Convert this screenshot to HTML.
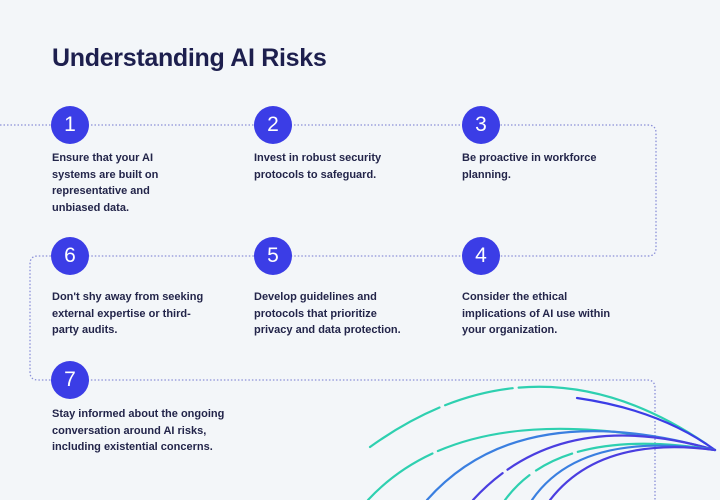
<!DOCTYPE html>
<html><head><style>
body{margin:0;width:720px;height:500px;background:#f3f6f9;font-family:"Liberation Sans",sans-serif;overflow:hidden;position:relative}
h1{position:absolute;left:52px;top:44px;margin:0;font-size:25px;color:#1d1f4e;font-weight:bold;letter-spacing:-0.3px}
.c{position:absolute;width:38px;height:38px;border-radius:50%;background:#3b3de6;color:#fff;font-size:21px;line-height:38px;text-align:center}
.t{position:absolute;font-size:11px;font-weight:bold;color:#23254a;line-height:16.5px;width:200px}
</style></head><body>
<svg width="720" height="500" style="position:absolute;left:0;top:0">
<g fill="none" stroke="#8a8fd8" stroke-width="1.3" stroke-dasharray="1.5 2">
<path d="M0 125 H648 Q656 125 656 133 V248 Q656 256 648 256 H38 Q30 256 30 264 V372 Q30 380 38 380 H647 Q655 380 655 388 V500"/>
</g>
<g fill="none" stroke-width="2.2" stroke-linecap="round">
<path d="M370 447 Q540 325 715 450" stroke="#2ed0b0" stroke-dasharray="80 6 70 6 200"/>
<path d="M577 398 Q660 410 715 450" stroke="#3b3de6"/>
<path d="M368 500 Q470 390 715 450" stroke="#2ed0b0" stroke-dasharray="80 6 200"/>
<path d="M427 500 Q520 395 715 450" stroke="#3a7fe0"/>
<path d="M473 500 Q560 405 715 450" stroke="#4a3ee0" stroke-dasharray="40 6 300"/>
<path d="M505 500 Q560 425 715 450" stroke="#2ed0b0" stroke-dasharray="35 8 40 6 300"/>
<path d="M532 500 Q580 430 715 450" stroke="#3a7fe0"/>
<path d="M550 500 Q600 435 715 450" stroke="#4a3ee0"/>
</g>
</svg>
<h1>Understanding AI Risks</h1>
<div class="c" style="left:51px;top:106px">1</div>
<div class="c" style="left:254px;top:106px">2</div>
<div class="c" style="left:462px;top:106px">3</div>
<div class="c" style="left:51px;top:237px">6</div>
<div class="c" style="left:254px;top:237px">5</div>
<div class="c" style="left:462px;top:237px">4</div>
<div class="c" style="left:51px;top:361px">7</div>
<div class="t" style="left:52px;top:150px;width:130px">Ensure that your AI systems are built on representative and unbiased data.</div>
<div class="t" style="left:254px;top:150px;width:150px">Invest in robust security protocols to safeguard.</div>
<div class="t" style="left:462px;top:150px;width:160px">Be proactive in workforce planning.</div>
<div class="t" style="left:52px;top:289px;width:180px">Don't shy away from seeking<br>external expertise or third-<br>party audits.</div>
<div class="t" style="left:254px;top:289px;width:190px">Develop guidelines and<br>protocols that prioritize<br>privacy and data protection.</div>
<div class="t" style="left:462px;top:289px;width:190px">Consider the ethical<br>implications of AI use within<br>your organization.</div>
<div class="t" style="left:52px;top:406px;width:200px">Stay informed about the ongoing conversation around AI risks, including existential concerns.</div>
</body></html>
